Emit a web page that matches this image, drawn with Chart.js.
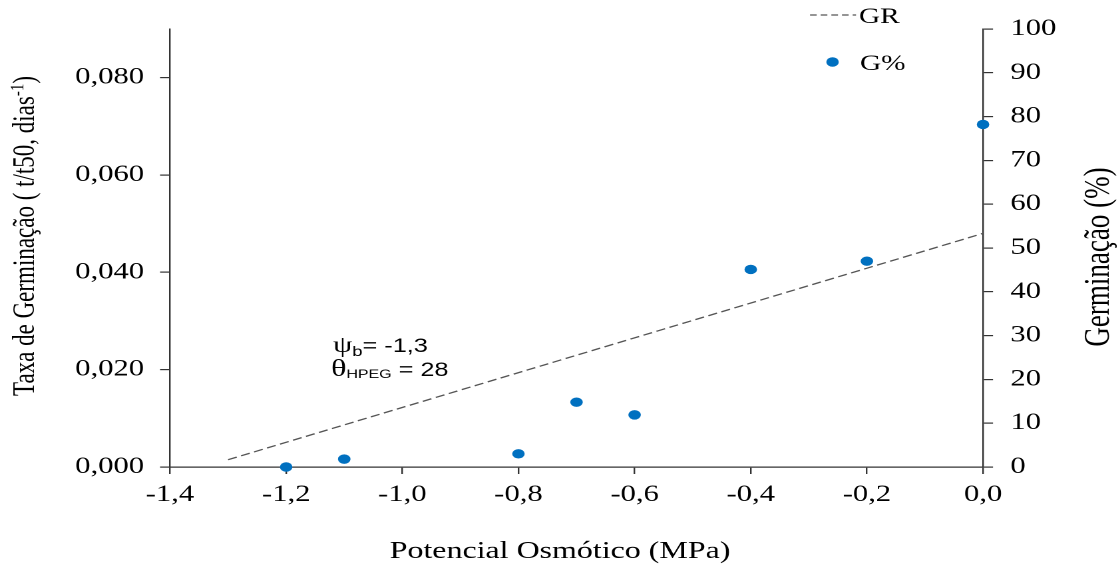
<!DOCTYPE html>
<html>
<head>
<meta charset="utf-8">
<script src="https://cdn.jsdelivr.net/npm/chart.js@4.4.1/dist/chart.umd.min.js"></script>
<style>
	html, body { margin: 0; padding: 0; background: #fff; overflow: hidden; }
	/* the source figure is stretched sideways, so the whole chart is drawn narrow and widened */
	#wrap { position: absolute; left: 0; top: 0; width: 840px; height: 567px; transform: scaleX(1.331); transform-origin: 0 0; }
</style>
</head>
<body>
<div id="wrap"><canvas id="chart"></canvas></div>
<script>
const STRETCH = 1118 / 840;

const potencial = [-1.2, -1.1, -0.8, -0.7, -0.6, -0.4, -0.2, 0.0];
const germinacao = [0, 1.8, 3.0, 14.8, 11.9, 45.1, 47.0, 78.2];
const grPotencial = [-1.3, 0.0];
const grTaxa = [0.0015, 0.048];
const xTicks = [-1.4, -1.2, -1.0, -0.8, -0.6, -0.4, -0.2, 0.0];
const taxaTicks = [0, 0.02, 0.04, 0.06, 0.08];
const germTicks = [0, 10, 20, 30, 40, 50, 60, 70, 80, 90, 100];

const SERIF = '"Liberation Serif", "Times New Roman", serif';
const SANS = '"Liberation Sans", Arial, sans-serif';
const AXIS = '#333';
const BLUE = '#0070c0';
const DASH = '#555';

// real picture x -> chart x
const rx = (x) => x / STRETCH;

function richText(ctx, parts, x, y) {
	let cx = x;
	parts.forEach((part) => {
		ctx.font = part.font;
		ctx.fillText(part.text, cx, y + (part.dy || 0));
		cx += ctx.measureText(part.text).width;
	});
}

function richWidth(ctx, parts) {
	return parts.reduce((w, part) => {
		ctx.font = part.font;
		return w + ctx.measureText(part.text).width;
	}, 0);
}

const textPlugin = {
	id: 'textPlugin',
	afterDraw(chart) {
		const ctx = chart.ctx;
		ctx.save();
		ctx.fillStyle = '#000';
		ctx.textBaseline = 'alphabetic';
		ctx.textAlign = 'left';

		// x title
		ctx.font = `24px ${SERIF}`;
		ctx.textAlign = 'center';
		ctx.fillText('Potencial Osmótico (MPa)', rx(560), 558);
		ctx.textAlign = 'left';

		// left title, reads upward
		const leftParts = [
			{ text: 'Taxa de Germinação ( t/t50, dias', font: `23px ${SERIF}` },
			{ text: '-1', font: `15px ${SERIF}`, dy: -8 },
			{ text: ')', font: `23px ${SERIF}` },
		];
		ctx.save();
		ctx.translate(rx(34), 236);
		ctx.rotate(-Math.PI / 2);
		richText(ctx, leftParts, -richWidth(ctx, leftParts) / 2, 0);
		ctx.restore();

		// right title, reads upward
		ctx.save();
		ctx.translate(rx(1109), 257);
		ctx.rotate(-Math.PI / 2);
		ctx.font = `27px ${SERIF}`;
		ctx.textAlign = 'center';
		ctx.fillText('Germinação (%)', 0, 0);
		ctx.restore();

		// legend
		ctx.strokeStyle = DASH;
		ctx.lineWidth = 1.3;
		ctx.setLineDash([5, 3]);
		ctx.beginPath();
		ctx.moveTo(rx(810), 15);
		ctx.lineTo(rx(856), 15);
		ctx.stroke();
		ctx.setLineDash([]);
		ctx.font = `22px ${SERIF}`;
		ctx.fillText('GR', rx(859), 23);
		ctx.fillStyle = BLUE;
		ctx.beginPath();
		ctx.arc(rx(832.5), 62, 4.7, 0, Math.PI * 2);
		ctx.fill();
		ctx.fillStyle = '#000';
		ctx.fillText('G%', rx(860), 70);

		// model parameters
		richText(ctx, [
			{ text: 'ψ', font: `23px ${SERIF}` },
			{ text: 'b', font: `14px ${SANS}`, dy: 4 },
			{ text: '= -1,3', font: `19px ${SANS}` },
		], rx(333), 352);
		richText(ctx, [
			{ text: 'θ', font: `24px ${SERIF}` },
			{ text: 'HPEG', font: `12px ${SANS}`, dy: 2 },
			{ text: ' = 28', font: `19px ${SANS}` },
		], rx(331), 376);

		ctx.restore();
	},
};

const tickFont = { family: SERIF, size: 23 };

new Chart(document.getElementById('chart'), {
	type: 'scatter',
	data: {
		datasets: [
			{
				label: 'GR',
				data: grPotencial.map((x, i) => ({ x: x, y: grTaxa[i] })),
				showLine: true,
				borderColor: DASH,
				borderWidth: 1.3,
				borderDash: [7, 3.5],
				pointRadius: 0,
				yAxisID: 'y',
			},
			{
				label: 'G%',
				data: potencial.map((x, i) => ({ x: x, y: germinacao[i] })),
				backgroundColor: BLUE,
				borderWidth: 0,
				pointRadius: 4.7,
				yAxisID: 'y1',
				clip: false,
			},
		],
	},
	options: {
		responsive: true,
		maintainAspectRatio: false,
		animation: false,
		devicePixelRatio: 2,
		layout: { padding: { top: 29, right: 0, bottom: 0, left: 0 } },
		plugins: {
			legend: { display: false },
			tooltip: { enabled: false },
		},
		scales: {
			x: {
				type: 'linear',
				min: -1.4,
				max: 0,
				afterBuildTicks: (scale) => { scale.ticks = xTicks.map((v) => ({ value: v })); },
				afterFit: (scale) => { scale.height = 100; },
				ticks: {
					callback: (v) => v.toFixed(1).replace('.', ','),
					font: tickFont,
					color: '#000',
					padding: 7,
					maxRotation: 0,
					autoSkip: false,
				},
				grid: { drawOnChartArea: false, tickLength: 7, color: AXIS, lineWidth: 1.2 },
				border: { color: AXIS, width: 1.2 },
			},
			y: {
				position: 'left',
				min: 0,
				max: 0.09,
				afterBuildTicks: (scale) => { scale.ticks = taxaTicks.map((v) => ({ value: v })); },
				afterFit: (scale) => { scale.width = rx(170); },
				ticks: {
					callback: (v) => v.toFixed(3).replace('.', ','),
					font: tickFont,
					color: '#000',
					padding: 12,
				},
				grid: { drawOnChartArea: false, tickLength: 7.5, color: AXIS, lineWidth: 1.2 },
				border: { color: AXIS, width: 1.2 },
			},
			y1: {
				position: 'right',
				min: 0,
				max: 100,
				afterBuildTicks: (scale) => { scale.ticks = germTicks.map((v) => ({ value: v })); },
				afterFit: (scale) => { scale.width = 840 - rx(983); },
				ticks: {
					callback: (v) => String(v),
					font: tickFont,
					color: '#000',
					padding: 13,
				},
				grid: { drawOnChartArea: false, tickLength: 7.5, color: AXIS, lineWidth: 1.2 },
				border: { color: AXIS, width: 1.2 },
			},
		},
	},
	plugins: [textPlugin],
});
</script>
</body>
</html>
